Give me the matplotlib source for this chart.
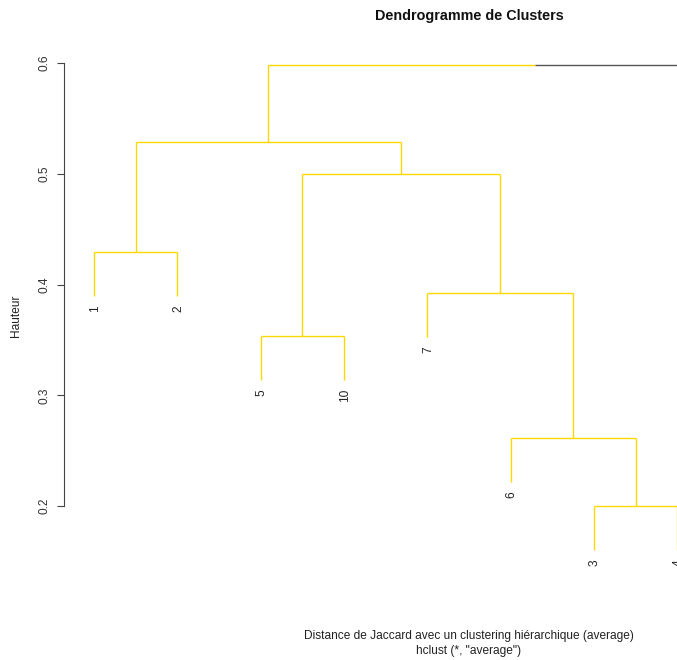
import matplotlib
matplotlib.use("Agg")
import matplotlib.pyplot as plt

plt.rcParams['font.family'] = ['Liberation Sans', 'DejaVu Sans']

# ---- data ----
leaf_labels = ["1", "2", "5", "10", "7", "6", "3", "4", "8", "9"]
# merges (R hclust style): strings = leaves, ints = earlier merge (1-based)
merge_left = ["3", "6", "5", "7", "1", 3, 5, "8", 7]
merge_right = ["4", 1, "10", 2, "2", 4, 6, "9", 8]
merge_height = [0.200, 0.2614, 0.3535, 0.3923, 0.4293, 0.4998, 0.5287, 0.45, 0.598]
group_a = ["1", "2", "5", "10", "7", "6", "3", "4"]
group_b = ["8", "9"]
color_a = "#FFD700"
color_b = "#555555"
yticks = [0.2, 0.3, 0.4, 0.5, 0.6]

title = "Dendrogramme de Clusters"
sub1 = "Distance de Jaccard avec un clustering hiérarchique (average)"
sub2 = 'hclust (*, "average")'

# ---- figure ----
W, H = 677, 660
fig = plt.figure(figsize=(W / 100, H / 100), dpi=100)
ax_left_px, ax_right_px = 64, 874
ax_top_px, ax_bot_px = 50, 600
ax = fig.add_axes([ax_left_px / W, 1 - ax_bot_px / H,
                   (ax_right_px - ax_left_px) / W, (ax_bot_px - ax_top_px) / H])

n = len(leaf_labels)
ax.set_xlim(0.64, n + 0.36)
ppu = (506 - 63) / 0.4
ax.set_ylim(0.2 - (ax_bot_px - 506) / ppu, 0.6 + (63 - ax_top_px) / ppu)

hang = 0.1 * (max(merge_height) - min(merge_height))
leaf_x = {lab: i + 1 for i, lab in enumerate(leaf_labels)}
leaf_col = {lab: color_a for lab in group_a}
leaf_col.update({lab: color_b for lab in group_b})

node_x, node_col = [], []

def child_info(c, parent_h):
    if isinstance(c, str):
        return leaf_x[c], parent_h - hang, leaf_col[c]
    i = c - 1
    return node_x[i], merge_height[i], node_col[i]

for l, r, h in zip(merge_left, merge_right, merge_height):
    lx, lh, lc = child_info(l, h)
    rx, rh, rc = child_info(r, h)
    x = (lx + rx) / 2
    for cx, ch, cc in ((lx, lh, lc), (rx, rh, rc)):
        ax.plot([x, cx], [h, h], color=cc, lw=1.0, solid_capstyle='butt')
        ax.plot([cx, cx], [h, ch], color=cc, lw=1.0, solid_capstyle='butt')
    for c, cx, ch in ((l, lx, lh), (r, rx, rh)):
        if isinstance(c, str):
            ax.annotate(c, (cx, ch), xytext=(0.7, -6.5), textcoords='offset points',
                        rotation=90, ha='center', va='top', fontsize=8.6,
                        color='#222222')
    node_x.append(x)
    node_col.append(lc if lc == rc else None)

for s in ['top', 'right', 'bottom']:
    ax.spines[s].set_visible(False)
ax.spines['left'].set_bounds(0.2, 0.6)
ax.spines['left'].set_color('#444444')
ax.set_xticks([])
ax.set_yticks(yticks)
ax.set_yticklabels([f"{v:.1f}" for v in yticks], rotation=90, va='center',
                   fontsize=8.6, color='#333333')
ax.tick_params(axis='y', length=5, width=0.8, color='#444444', pad=5)

cx = 469 / W
fig.text(cx, 1 - 16 / H, title, ha='center', va='center', fontsize=10.4,
         fontweight='bold', color='#111111')
fig.text(cx, 1 - 636 / H, sub1, ha='center', va='center', fontsize=8.6,
         color='#222222')
fig.text(cx, 1 - 651 / H, sub2, ha='center', va='center', fontsize=8.6,
         color='#222222')
fig.text(16 / W, 1 - 316 / H, "Hauteur", rotation=90, ha='center',
         va='center', fontsize=8.6, color='#222222')

fig.savefig("out.png", dpi=100)
